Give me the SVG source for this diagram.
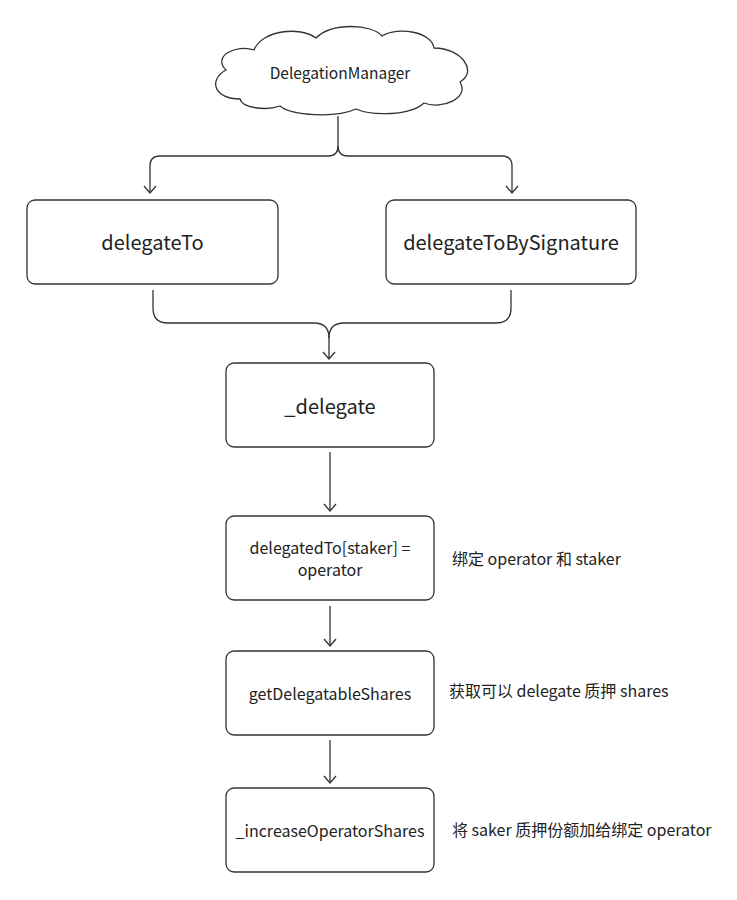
<svg xmlns="http://www.w3.org/2000/svg" width="737" height="900" viewBox="0 0 737 900">
<defs>
<style>
.box{fill:#fff;stroke:#333;stroke-width:1.3}
.cn{fill:none;stroke:#333;stroke-width:1.3}
.t{font-family:"Noto Sans CJK SC","Noto Sans",sans-serif;fill:#222;text-anchor:middle}
.a{font-family:"Noto Sans CJK SC","Noto Sans",sans-serif;fill:#222;font-size:16px}
</style>
<marker id="ar" viewBox="0 0 14 14" refX="12" refY="7" markerWidth="14" markerHeight="14" markerUnits="userSpaceOnUse" orient="auto">
<path d="M5,1 L12,7 L5,13" fill="none" stroke="#333" stroke-width="1.3"/>
</marker>
</defs>
<rect width="737" height="900" fill="#fff"/>
<g id="connectors">
<path class="cn" d="M338,116 V146 Q338,156 328,156 H160 Q150,156 150,166 V193" marker-end="url(#ar)"/>
<path class="cn" d="M338,146 Q338,156 348,156 H502 Q512,156 512,166 V193" marker-end="url(#ar)"/>
<path class="cn" d="M153,290 V308 Q153,323 168,323 H314 Q329,323 329,338 V359" marker-end="url(#ar)"/>
<path class="cn" d="M511,290 V308 Q511,323 496,323 H344 Q329,323 329,338"/>
<path class="cn" d="M330,452 V511" marker-end="url(#ar)"/>
<path class="cn" d="M330,606 V646" marker-end="url(#ar)"/>
<path class="cn" d="M330,740 V783" marker-end="url(#ar)"/>
</g>
<g id="DelegationManager">
<path class="box" d="M240,99 C214,99 208,80 226,70 C212,56 236,44 254,50 C262,30 300,26 316,38 C332,22 372,24 382,36 C398,26 432,32 434,48 C462,48 478,72 460,82 C470,98 442,110 424,103 C410,116 372,116 356,109 C336,118 292,116 280,106 C266,111 242,108 240,99 Z"/>
<text class="t" x="340" y="79" font-size="15.5">DelegationManager</text>
</g>
<g id="delegateTo">
<rect class="box" x="27" y="200" width="251" height="84" rx="8"/>
<text class="t" x="152.5" y="250" font-size="20">delegateTo</text>
</g>
<g id="delegateToBySignature">
<rect class="box" x="386" y="200" width="250" height="84" rx="8"/>
<text class="t" x="511" y="250" font-size="20">delegateToBySignature</text>
</g>
<g id="_delegate">
<rect class="box" x="226" y="363" width="208" height="84" rx="8"/>
<text class="t" x="330" y="414" font-size="20">_delegate</text>
</g>
<g id="delegatedTo">
<rect class="box" x="226" y="516" width="208" height="84" rx="8"/>
<text class="t" x="330" y="554" font-size="16">delegatedTo[staker] =</text>
<text class="t" x="330" y="576" font-size="16">operator</text>
<text class="a" x="452" y="565">绑定 operator 和 staker</text>
</g>
<g id="getDelegatableShares">
<rect class="box" x="226" y="651" width="208" height="84" rx="8"/>
<text class="t" x="330" y="700" font-size="16">getDelegatableShares</text>
<text class="a" x="449" y="697">获取可以 delegate 质押 shares</text>
</g>
<g id="_increaseOperatorShares">
<rect class="box" x="226" y="788" width="208" height="84" rx="8"/>
<text class="t" x="330" y="837" font-size="16">_increaseOperatorShares</text>
<text class="a" x="452" y="836">将 saker 质押份额加给绑定 operator</text>
</g>
</svg>
